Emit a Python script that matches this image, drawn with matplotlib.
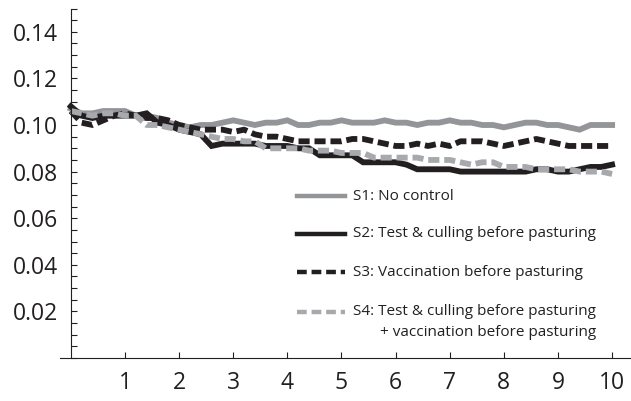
import numpy as np
import matplotlib.pyplot as plt
from matplotlib.ticker import MultipleLocator

plt.rcParams['font.family'] = ['Open Sans', 'DejaVu Sans']
plt.rcParams['lines.scale_dashes'] = False

# time axis, one value every 0.2
t = np.round(np.arange(0, 10.01, 0.2), 2)

s1 = [0.107, 0.105, 0.105, 0.106, 0.106, 0.106, 0.104, 0.104, 0.103, 0.101,
      0.100, 0.099, 0.100, 0.100, 0.101, 0.102, 0.101, 0.100, 0.101, 0.101,
      0.102, 0.100, 0.100, 0.101, 0.101, 0.102, 0.101, 0.101, 0.101, 0.102,
      0.101, 0.101, 0.100, 0.101, 0.101, 0.102, 0.101, 0.101, 0.100, 0.100,
      0.099, 0.100, 0.101, 0.101, 0.100, 0.100, 0.099, 0.098, 0.100, 0.100,
      0.100]
s2 = [0.108, 0.104, 0.103, 0.104, 0.104, 0.104, 0.104, 0.105, 0.101, 0.100,
      0.098, 0.097, 0.096, 0.091, 0.092, 0.092, 0.092, 0.092, 0.091, 0.091,
      0.091, 0.090, 0.090, 0.087, 0.087, 0.087, 0.087, 0.084, 0.084, 0.084,
      0.084, 0.083, 0.081, 0.081, 0.081, 0.081, 0.080, 0.080, 0.080, 0.080,
      0.080, 0.080, 0.080, 0.081, 0.081, 0.080, 0.080, 0.081, 0.082, 0.082,
      0.083]
s3 = [0.106, 0.101, 0.100, 0.102, 0.104, 0.105, 0.104, 0.103, 0.103, 0.102,
      0.100, 0.099, 0.098, 0.098, 0.098, 0.097, 0.098, 0.096, 0.095, 0.095,
      0.094, 0.093, 0.093, 0.093, 0.093, 0.093, 0.094, 0.094, 0.093, 0.092,
      0.091, 0.091, 0.092, 0.091, 0.092, 0.091, 0.093, 0.093, 0.093, 0.092,
      0.091, 0.092, 0.093, 0.094, 0.093, 0.092, 0.091, 0.091, 0.091, 0.091,
      0.091]
s4 = [0.106, 0.105, 0.104, 0.105, 0.105, 0.104, 0.104, 0.100, 0.100, 0.099,
      0.098, 0.097, 0.096, 0.095, 0.094, 0.094, 0.093, 0.093, 0.090, 0.090,
      0.090, 0.090, 0.089, 0.089, 0.089, 0.088, 0.088, 0.088, 0.086, 0.086,
      0.086, 0.086, 0.086, 0.085, 0.085, 0.085, 0.084, 0.083, 0.084, 0.084,
      0.082, 0.082, 0.082, 0.081, 0.081, 0.081, 0.081, 0.080, 0.080, 0.080,
      0.079]

labels = ['S1: No control',
          'S2: Test & culling before pasturing',
          'S3: Vaccination before pasturing',
          'S4: Test & culling before pasturing\n+ vaccination before pasturing']

grey = '#939598'
black = '#231f20'
styles = [dict(color=grey, dashes=None),
          dict(color=black, dashes=None),
          dict(color=black, dashes=(8, 3.5)),
          dict(color='#a7a9ac', dashes=(8, 3.5))]

fig = plt.figure(figsize=(6.31, 4.01), dpi=100)
ax = fig.add_axes([0.0951, 0.1072, 0.905, 0.8716])

for ys, st in zip([s1, s2, s3, s4], styles):
    line, = ax.plot(t, ys, color=st['color'], lw=4.2, solid_joinstyle='miter')
    if st['dashes']:
        line.set_dashes(st['dashes'])

# hand-placed key; a second label line sits under the first, indented
key_y = [0.4635, 0.355, 0.246, 0.132]
for lab, st, ky in zip(labels, styles, key_y):
    ln, = ax.plot([0.415, 0.499], [ky, ky], transform=ax.transAxes,
                  color=st['color'], lw=3.2, clip_on=False)
    if st['dashes']:
        ln.set_dashes((7, 3.5))
    parts = lab.split('\n')
    ax.text(0.513, ky, parts[0], transform=ax.transAxes, fontsize=11,
            color=black, va='center')
    if len(parts) > 1:
        ax.text(0.560, ky - 0.059, parts[1], transform=ax.transAxes,
                fontsize=11, color=black, va='center')

ax.set_xlim(-0.2, 10.35)
ax.set_ylim(0, 0.15)
ax.spines['left'].set_position(('data', 0))
ax.spines['top'].set_visible(False)
ax.spines['right'].set_visible(False)
for sp in ax.spines.values():
    sp.set_color(black)
    sp.set_linewidth(0.8)

ax.set_xticks(range(1, 11))
ax.set_yticks([0.02, 0.04, 0.06, 0.08, 0.10, 0.12, 0.14])
ax.set_yticklabels(['0.02', '0.04', '0.06', '0.08', '0.10', '0.12', '0.14'])
ax.yaxis.set_minor_locator(MultipleLocator(0.005))
ax.tick_params(axis='both', which='both', direction='in', length=4.5,
               width=0.8, color=black, labelsize=16.5, labelcolor=black)
ax.tick_params(axis='y', pad=9)
ax.tick_params(axis='x', pad=9)

fig.savefig('out.png', dpi=100)
